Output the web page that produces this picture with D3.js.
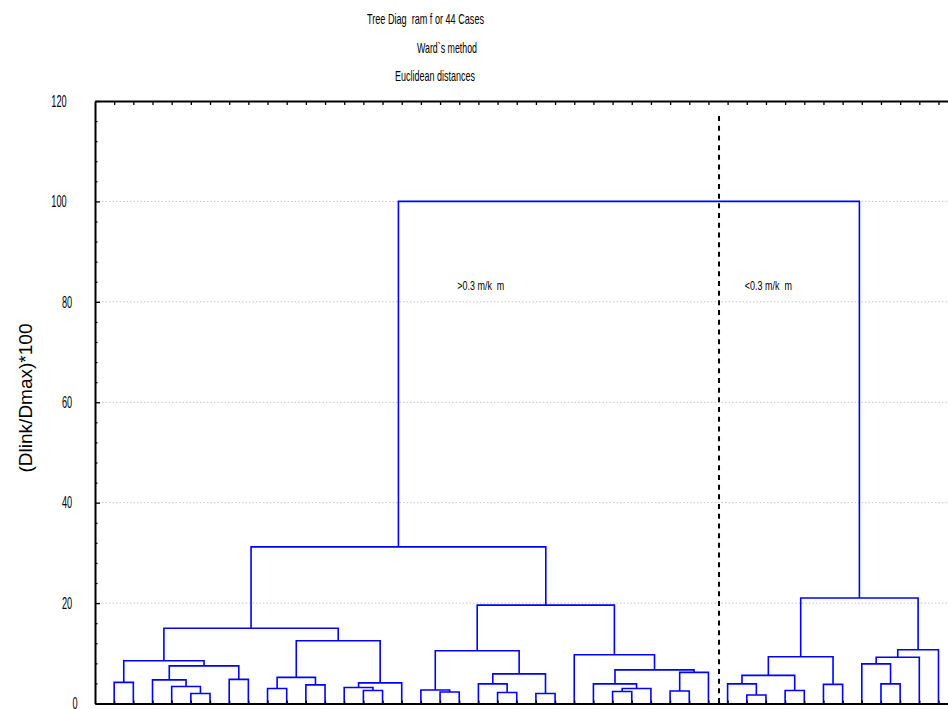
<!DOCTYPE html>
<html>
<head>
<meta charset="utf-8">
<script src="https://cdn.jsdelivr.net/npm/d3@7"></script>
<style>
  html, body { margin: 0; padding: 0; background: #fff; }
  svg { display: block; }
  text { font-family: "Liberation Sans Narrow", "Arial Narrow", "Liberation Sans", Arial, sans-serif; fill: #000; white-space: pre; }
</style>
</head>
<body>
<script>
// Cases in dendrogram order (left to right)
const caseIds = ["C_1","C_2","C_3","C_4","C_5","C_6","C_7","C_8","C_9","C_10","C_11",
  "C_12","C_13","C_14","C_15","C_16","C_17","C_18","C_19","C_20","C_21","C_22",
  "C_23","C_24","C_25","C_26","C_27","C_28","C_29","C_30","C_31","C_32","C_33",
  "C_34","C_35","C_36","C_37","C_38","C_39","C_40","C_41","C_42","C_43","C_44"];

// Ward linkage: [left node, right node, (Dlink/Dmax)*100]; node ids >= 44 are earlier merges
const linkage = [
  [0, 1, 4.2],   [4, 5, 2.0],   [3, 45, 3.4],  [2, 46, 4.7],  [6, 7, 4.8],
  [47, 48, 7.5], [44, 49, 8.5], [8, 9, 3.0],   [10, 11, 3.7], [51, 52, 5.2],
  [13, 14, 2.6], [12, 54, 3.2], [55, 15, 4.1], [53, 56, 12.5],[50, 57, 15.0],
  [17, 18, 2.3], [16, 59, 2.7], [20, 21, 2.2], [19, 61, 3.9], [22, 23, 2.0],
  [62, 63, 5.9], [60, 64, 10.5],[26, 27, 2.4], [66, 28, 3.0], [25, 67, 3.9],
  [29, 30, 2.5], [69, 31, 6.2], [68, 70, 6.7], [24, 71, 9.7], [65, 72, 19.6],
  [58, 73, 31.2],[33, 34, 1.7], [32, 75, 3.9], [35, 36, 2.6], [76, 77, 5.6],
  [37, 38, 3.8], [78, 79, 9.3], [40, 41, 3.9], [39, 81, 7.9], [82, 42, 9.2],
  [83, 43, 10.7],[80, 84, 21.0],[74, 85, 100]
];

const titleLines = ["Tree Diag  ram f or 44 Cases", "Ward`s method", "Euclidean distances"];
const yTitle = "(Dlink/Dmax)*100";
const yMajorTicks = [0, 20, 40, 60, 80, 100, 120];
const yMinorTicks = [4, 8, 12, 16, 24, 28, 32, 36, 44, 48, 52, 56, 64, 68, 72, 76, 84, 88, 92, 96, 104, 108, 112, 116];
const yGridLines = [20, 40, 60, 80, 100];

// Cut line between the two main groups (after case index 31), and the group notes
const cutAfterCase = 31;
const cutTop = 117;
const groupNotes = [
  { text: ">0.3 m/k  m", at: 17.9, value: 82.3 },
  { text: "<0.3 m/k  m", at: 32.9, value: 82.3 }
];

const W = 948, H = 709;
const mLeft = 95, mTop = 101, mBottom = 703.5;
const plotRight = mLeft + 45 * 19.17;

const svg = d3.select("body").append("svg").attr("width", W).attr("height", H);

const x = d3.scalePoint().domain(caseIds).range([mLeft, plotRight]).padding(1);
const y = d3.scaleLinear().domain([0, 120]).range([mBottom, mTop]);
const step = x.step();
const x0 = x(caseIds[0]);

// Grid
svg.append("g").selectAll("line").data(yGridLines).join("line")
  .attr("x1", mLeft).attr("x2", plotRight)
  .attr("y1", d => y(d)).attr("y2", d => y(d))
  .attr("stroke", "#c4c4c4").attr("stroke-width", 1).attr("stroke-dasharray", "1.5,2");

// Node positions from the linkage
const nodes = caseIds.map(c => ({ x: x(c), h: 0 }));
linkage.forEach(([a, b, h]) => {
  nodes.push({ x: (nodes[a].x + nodes[b].x) / 2, h });
});

svg.append("g").selectAll("path").data(linkage).join("path")
  .attr("d", ([a, b, h]) => {
    const A = nodes[a], B = nodes[b];
    return `M${A.x},${y(A.h)}V${y(h)}H${B.x}V${y(B.h)}`;
  })
  .attr("fill", "none").attr("stroke", "#0000ff").attr("stroke-width", 1.6);

// Cut line
const cutX = (x(caseIds[cutAfterCase]) + x(caseIds[cutAfterCase + 1])) / 2 + 1;
svg.append("line")
  .attr("x1", cutX).attr("x2", cutX).attr("y1", y(cutTop)).attr("y2", y(0))
  .attr("stroke", "#000").attr("stroke-width", 2).attr("stroke-dasharray", "5,4.7");

// Axes frame: top with case ticks, bottom, left with major/minor ticks
svg.append("g").attr("transform", `translate(0,${mTop})`)
  .call(d3.axisTop(x).tickSizeInner(-4).tickSizeOuter(0).tickFormat(""))
  .call(g => g.select(".domain").attr("stroke-width", 2))
  .call(g => g.selectAll(".tick line").attr("stroke-width", 1.3));

svg.append("g").attr("transform", `translate(0,${mBottom})`)
  .call(d3.axisBottom(x).tickSizeInner(-3).tickSizeOuter(0).tickFormat(""))
  .call(g => g.select(".domain").attr("stroke-width", 2))
  .call(g => g.selectAll(".tick line").attr("stroke-width", 1.3));

svg.append("g").attr("transform", `translate(${mLeft},0)`)
  .call(d3.axisLeft(y).tickValues(yMinorTicks).tickSizeInner(-2.5).tickSizeOuter(0).tickFormat(""))
  .call(g => g.select(".domain").remove())
  .call(g => g.selectAll(".tick line").attr("stroke-width", 1.2));

svg.append("g").attr("transform", `translate(${mLeft},0)`)
  .call(d3.axisLeft(y).tickValues(yMajorTicks).tickSizeInner(-5).tickSizeOuter(0).tickFormat(""))
  .call(g => g.select(".domain").attr("stroke-width", 2))
  .call(g => g.selectAll(".tick line").attr("stroke-width", 1.3));

// Tick labels
svg.append("g").selectAll("text").data(yMajorTicks).join("text")
  .attr("x", d => 83 - 8 * String(d).length)
  .attr("y", d => y(d) + 5.8)
  .attr("text-anchor", "middle")
  .attr("font-size", 16)
  .attr("textLength", d => 5.1 * String(d).length)
  .attr("lengthAdjust", "spacingAndGlyphs")
  .text(d => d);

// Y title
svg.append("text")
  .attr("transform", "translate(32,398) rotate(-90)")
  .attr("text-anchor", "middle")
  .attr("font-size", 19)
  .style("font-family", "'Liberation Sans', Arial, sans-serif")
  .attr("textLength", 149)
  .attr("lengthAdjust", "spacingAndGlyphs")
  .text(yTitle);

// Titles
const titleX = [367, 417, 395], titleY = [23.5, 52.5, 81], titleLen = [117, 60, 80];
svg.append("g").selectAll("text").data(titleLines).join("text")
  .attr("x", (d, i) => titleX[i]).attr("y", (d, i) => titleY[i])
  .attr("font-size", 15)
  .attr("textLength", (d, i) => titleLen[i])
  .attr("lengthAdjust", "spacingAndGlyphs")
  .text(d => d);

// Group notes
svg.append("g").selectAll("text").data(groupNotes).join("text")
  .attr("x", d => x0 + d.at * step)
  .attr("y", d => y(d.value))
  .attr("font-size", 12.5)
  .attr("textLength", 47)
  .attr("lengthAdjust", "spacingAndGlyphs")
  .text(d => d.text);
</script>
</body>
</html>
